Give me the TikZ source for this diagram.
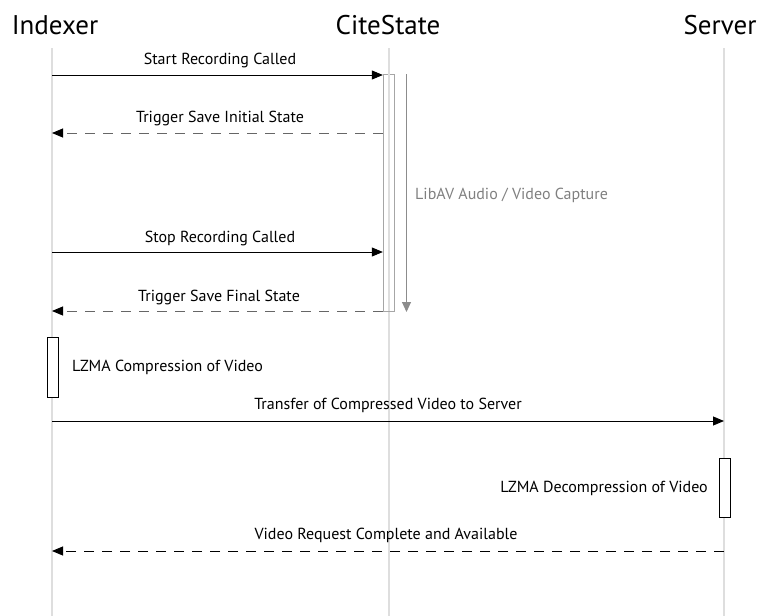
\documentclass[tikz,border=0pt]{standalone}
\usepackage{fontspec}
\setmainfont{PT Sans}
\usetikzlibrary{arrows.meta}
\begin{document}
\begin{tikzpicture}[x=1pt,y=-1pt,
  lifeline/.style={draw=black!13,line width=1.4pt},
  header/.style={font=\fontsize{27}{30}\selectfont,inner sep=0},
  msglabel/.style={font=\fontsize{16}{18}\selectfont,inner sep=0},
  syncmsg/.style={draw=black,line width=0.9pt,-{Triangle[length=11pt,width=9pt]}},
  retmsg/.style={draw=black!60,line width=0.9pt,dash pattern=on 10pt off 8pt,-{Triangle[length=11pt,width=9pt,color=black,fill=black]}},
  retmsgdark/.style={draw=black,line width=0.9pt,dash pattern=on 10pt off 8pt,-{Triangle[length=11pt,width=9pt]}},
  actbox/.style={draw=black,line width=0.9pt,fill=white,minimum width=11pt,inner sep=0},
  actboxgray/.style={draw=black!35,line width=0.9pt,minimum width=11pt,inner sep=0}]
\useasboundingbox (0,0) rectangle (761,616);
% headers
\node[header] (hI) at (55,25) {Indexer};
\node[header] (hC) at (388,25) {CiteState};
\node[header] (hS) at (720,25) {Server};
% lifeline ends
\coordinate (iT) at (52,48); \coordinate (iB) at (52,616);
\coordinate (cT) at (389,48); \coordinate (cB) at (389,616);
\coordinate (sT) at (724,48); \coordinate (sB) at (724,616);
\draw[lifeline] (iT) -- (iB);
\draw[lifeline] (cT) -- (cB);
\draw[lifeline] (sT) -- (sB);
% CiteState activation
\node[actboxgray,minimum height=237pt] (actC) at (388.8,192.5) {};
\draw[lifeline] (389,74) -- (389,311);
% LibAV capture arrow
\coordinate (libT) at (406.5,74);
\coordinate (libB) at (406.5,312);
\draw[draw=black!45,line width=1pt,-{Triangle[length=10pt,width=9pt]}] (libT) -- (libB);
\node[msglabel,text=black!50,anchor=west] (libL) at (415,195) {LibAV Audio / Video Capture};
% messages
\coordinate (m1a) at (52,75); \coordinate (m1b) at (actC.west |- 0,75);
\draw[syncmsg] (m1a) -- (m1b);
\node[msglabel] (l1) at (220,60) {Start Recording Called};
\coordinate (m2a) at (actC.west |- 0,133); \coordinate (m2b) at (52,133);
\draw[retmsg] (m2a) -- (m2b);
\node[msglabel] (l2) at (220,118) {Trigger Save Initial State};
\coordinate (m3a) at (52,252); \coordinate (m3b) at (actC.west |- 0,252);
\draw[syncmsg] (m3a) -- (m3b);
\node[msglabel] (l3) at (220,238) {Stop Recording Called};
\coordinate (m4a) at (actC.west |- 0,311); \coordinate (m4b) at (52,311);
\draw[retmsg] (m4a) -- (m4b);
\node[msglabel] (l4) at (219,297) {Trigger Save Final State};
% Indexer activation
\node[actbox,minimum height=60pt] (actI) at (52.5,367) {};
\node[msglabel,anchor=west] (lI) at (72,367) {LZMA Compression of Video};
% transfer
\coordinate (m5a) at (52,421); \coordinate (m5b) at (724,421);
\draw[syncmsg] (m5a) -- (m5b);
\node[msglabel] (l5) at (388,405) {Transfer of Compressed Video to Server};
% Server activation
\node[actbox,minimum height=59pt] (actS) at (724.5,488) {};
\node[msglabel,anchor=east] (lS) at (708,488) {LZMA Decompression of Video};
% final return
\coordinate (m6a) at (724,551); \coordinate (m6b) at (52,551);
\draw[retmsgdark] (m6a) -- (m6b);
\node[msglabel] (l6) at (386,535) {Video Request Complete and Available};
\end{tikzpicture}
\end{document}
